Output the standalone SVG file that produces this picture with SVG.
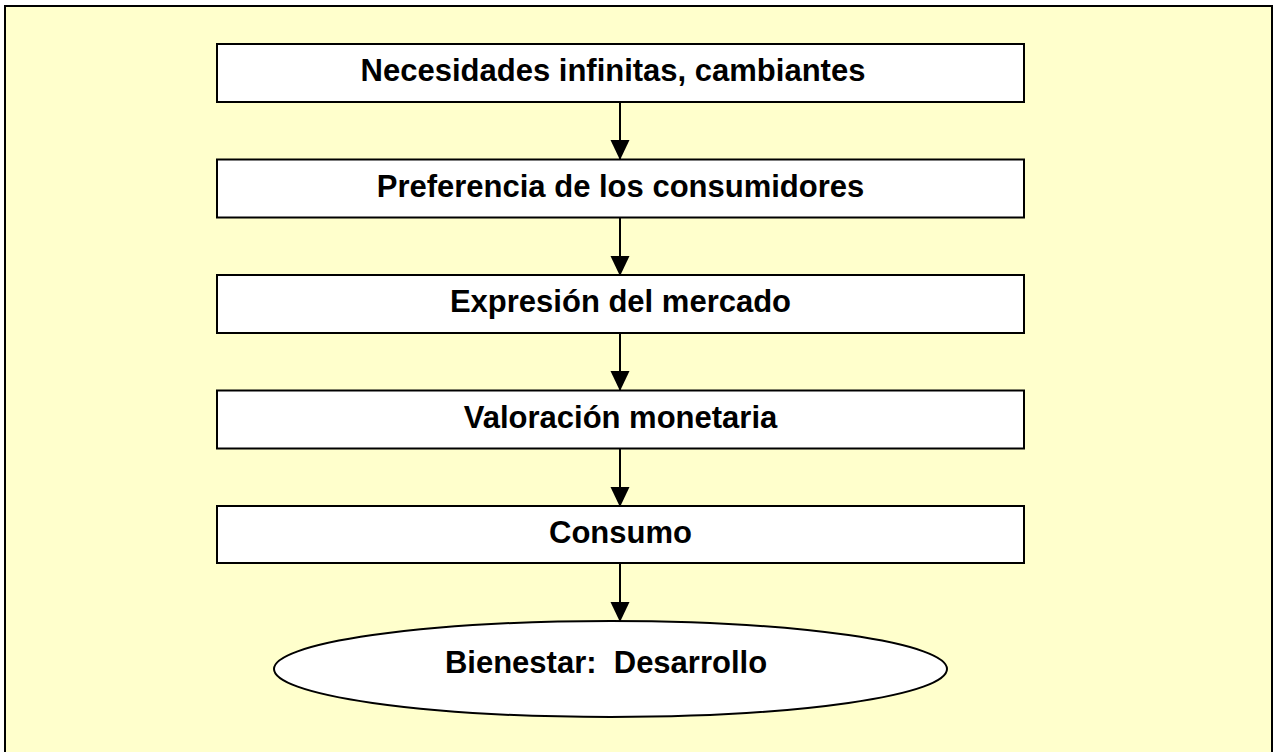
<svg xmlns="http://www.w3.org/2000/svg" width="1276" height="752" viewBox="0 0 1276 752">
<defs>
<style>
.frame{fill:#FFFFCC;stroke:#000;stroke-width:2}
.box{fill:#fff;stroke:#000;stroke-width:2}
.lbl{font-family:"Liberation Sans",Arial,sans-serif;font-weight:bold;font-size:31px;fill:#000;text-anchor:middle;white-space:pre}
.conn{stroke:#000;stroke-width:2;fill:none}
</style>
<marker id="ah" markerWidth="20" markerHeight="21" refX="20" refY="10" orient="auto" markerUnits="userSpaceOnUse" viewBox="0 0 21 20">
<path d="M0,0 L21,10 L0,20 Z" fill="#000"/>
</marker>
</defs>
<rect class="frame" x="5" y="6" width="1267" height="760"/>
<g id="connectors">
<line class="conn" x1="620" y1="102" x2="620" y2="159" marker-end="url(#ah)"/>
<line class="conn" x1="620" y1="217" x2="620" y2="275" marker-end="url(#ah)"/>
<line class="conn" x1="620" y1="333" x2="620" y2="390" marker-end="url(#ah)"/>
<line class="conn" x1="620" y1="448" x2="620" y2="506" marker-end="url(#ah)"/>
<line class="conn" x1="620" y1="563" x2="620" y2="621" marker-end="url(#ah)"/>
</g>
<g id="n1"><rect class="box" x="217" y="44" width="807" height="58"/><text class="lbl" x="613" y="81">Necesidades infinitas, cambiantes</text></g>
<g id="n2"><rect class="box" x="217" y="159.5" width="807" height="58"/><text class="lbl" x="620.5" y="196.5">Preferencia de los consumidores</text></g>
<g id="n3"><rect class="box" x="217" y="275" width="807" height="58"/><text class="lbl" x="620.5" y="312">Expresión del mercado</text></g>
<g id="n4"><rect class="box" x="217" y="390.5" width="807" height="58"/><text class="lbl" x="620.5" y="427.5">Valoración monetaria</text></g>
<g id="n5"><rect class="box" x="217" y="506" width="807" height="57"/><text class="lbl" x="620.5" y="543">Consumo</text></g>
<g id="n6"><ellipse class="box" cx="610.5" cy="669" rx="336.5" ry="48"/><text class="lbl" x="606" y="673">Bienestar:  Desarrollo</text></g>
</svg>
